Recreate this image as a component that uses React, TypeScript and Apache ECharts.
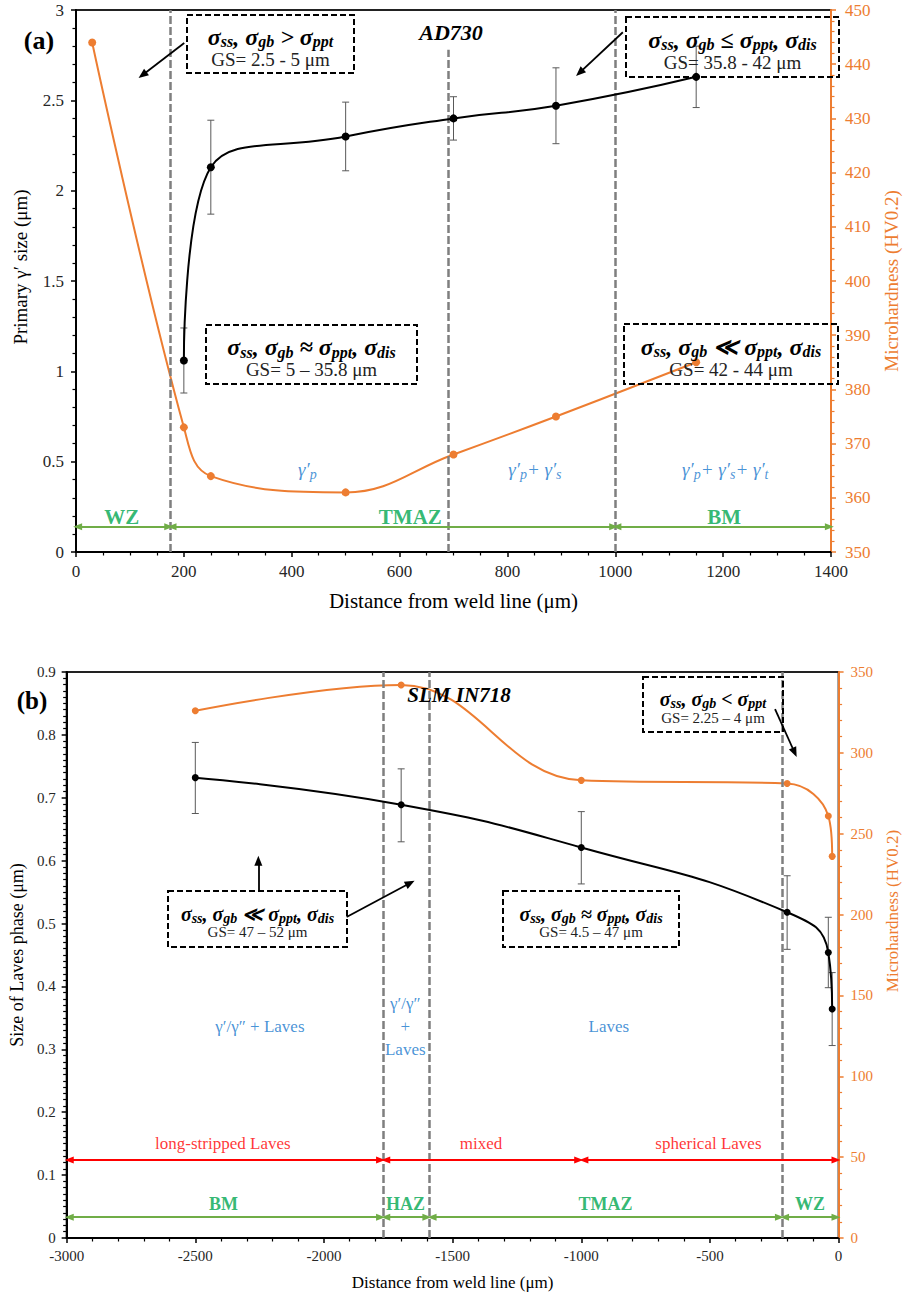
import React, { useEffect, useRef } from "react";
import * as echarts from "echarts";

const SERIF = "Liberation Serif";
const ORANGE = "#ED7D31";
const GREEN_TXT = "#00A64F";
const GREEN_LN = "#70AD47";
const BLUE = "#1677CC";
const RED = "#FF0000";

// ---------- (a) AD730 ----------
const aSizeX = [200, 250, 500, 700, 890, 1150];
const aSizeY = [1.06, 2.13, 2.3, 2.4, 2.47, 2.63];
const aSizeLo = [0.88, 1.87, 2.11, 2.28, 2.26, 2.46];
const aSizeHi = [1.24, 2.39, 2.49, 2.52, 2.68, 2.8];
const aHardX = [30, 200, 250, 500, 700, 890, 1150];
const aHardY = [444, 373, 364, 361, 368, 375, 385];
const aBounds = [175, 690, 1000];
const aBoundTop = [3, 2.78, 3];
const aZoneNames = ["WZ", "TMAZ", "BM"];
const aZoneFrom = [0, 175, 1000];
const aZoneTo = [175, 1000, 1400];
const aZoneLabelX = [85, 620, 1202];
const aZoneY = 0.14;
const aXRange = [0, 1400, 200];
const aYRange = [0, 3, 0.5];
const aY2Range = [350, 450, 10];

// ---------- (b) SLM IN718 ----------
const bX = [-2500, -1700, -1000, -200, -40, -25];
const bSizeY = [0.732, 0.689, 0.621, 0.518, 0.454, 0.364];
const bSizeLo = [0.675, 0.63, 0.563, 0.459, 0.398, 0.306];
const bSizeHi = [0.788, 0.746, 0.678, 0.576, 0.51, 0.422];
const bHardY = [326, 342, 283, 281, 261, 236];
const bBounds = [-1770, -1590, -220];
const bZoneNames = ["BM", "HAZ", "TMAZ", "WZ"];
const bZoneFrom = [-3000, -1770, -1590, -220];
const bZoneTo = [-1770, -1590, -220, 0];
const bZoneLabelX = [-2390, -1683, -906, -111];
const bZoneY = 0.033;
const bMorphNames = ["long-stripped Laves", "mixed", "spherical Laves"];
const bMorphFrom = [-3000, -1770, -1000];
const bMorphTo = [-1770, -1000, 0];
const bMorphLabelX = [-2393, -1390, -506];
const bMorphY = 0.124;
const bXRange = [-3000, 0, 500];
const bYRange = [0, 0.9, 0.1];
const bY2Range = [0, 350, 50];

const errRender = (params: any, api: any) => {
  const x = api.value(0);
  const lo = api.coord([x, api.value(1)]);
  const hi = api.coord([x, api.value(2)]);
  const w = 3.5;
  const st = { stroke: "#595959", lineWidth: 1 };
  return {
    type: "group",
    children: [
      { type: "line", shape: { x1: lo[0], y1: lo[1], x2: hi[0], y2: hi[1] }, style: st },
      { type: "line", shape: { x1: lo[0] - w, y1: lo[1], x2: lo[0] + w, y2: lo[1] }, style: st },
      { type: "line", shape: { x1: hi[0] - w, y1: hi[1], x2: hi[0] + w, y2: hi[1] }, style: st },
    ],
  };
};

const fmt = (v: number) => String(Math.round(v * 1e6) / 1e6);

function valueAxis(o: any) {
  const color = o.color || "#000";
  return {
    type: "value",
    gridIndex: o.grid,
    position: o.position,
    min: o.range[0],
    max: o.range[1],
    interval: o.range[2],
    name: o.name,
    nameLocation: "middle",
    nameGap: o.nameGap,
    nameTextStyle: { fontFamily: SERIF, fontSize: o.nameSize, color: o.nameColor || "#000", padding: o.namePad || 0 },
    axisLine: { show: true, onZero: false, lineStyle: { color, width: 2 } },
    axisTick: { show: true, length: 5, lineStyle: { color, width: 1.5 } },
    minorTick: { show: true, splitNumber: o.minor, length: 3.5, lineStyle: { color, width: 1.2 } },
    splitLine: { show: false },
    minorSplitLine: { show: false },
    axisLabel: { fontFamily: SERIF, fontSize: o.labelSize, color: o.labelColor || "#262626", margin: o.margin, formatter: fmt },
  };
}

const markerSeries = (xi: number, yi: number, markLine: any) => ({
  type: "line",
  xAxisIndex: xi,
  yAxisIndex: yi,
  data: [],
  silent: true,
  markLine: { silent: true, animation: false, label: { show: false }, emphasis: { disabled: true }, ...markLine },
});

const labelSeries = (xi: number, yi: number, data: any[], label: any) => ({
  type: "scatter",
  xAxisIndex: xi,
  yAxisIndex: yi,
  symbolSize: 1,
  silent: true,
  itemStyle: { color: "rgba(0,0,0,0)" },
  data,
  label: { show: true, position: "inside", formatter: "{b}", ...label },
  z: 8,
});

const subRich = (size: number, sub: number, pad: number) => ({
  b: { fontFamily: SERIF, fontWeight: "bold", fontStyle: "italic", fontSize: size, fill: "#000", lineHeight: size },
  s: { fontFamily: SERIF, fontWeight: "bold", fontStyle: "italic", fontSize: sub, fill: "#000", padding: [pad, 0, 0, 0], lineHeight: size },
  g: { fontFamily: SERIF, fontSize: size - 5, fill: "#222", lineHeight: size - 3 },
});

function box(x0: number, y0: number, x1: number, y1: number, text: string, size: number, sub: number, pad: number) {
  return [
    {
      type: "rect",
      shape: { x: x0, y: y0, width: x1 - x0, height: y1 - y0 },
      style: { fill: "none", stroke: "#000", lineWidth: 2, lineDash: [6, 3] },
      z: 20,
    },
    {
      type: "text",
      x: (x0 + x1) / 2,
      y: (y0 + y1) / 2 + 3,
      style: { text, rich: subRich(size, sub, pad), align: "center", verticalAlign: "middle", fontFamily: SERIF },
      z: 21,
    },
  ];
}

const f = (parts: [string, string][]) => parts.map(([b, s]) => `{b|${b}}` + (s ? `{s|${s}}` : "")).join("");

export default function App() {
  const ref = useRef<HTMLDivElement>(null);
  useEffect(() => {
    if (!ref.current) return;
    const chart = echarts.init(ref.current, undefined, { renderer: "svg" });

    const blueRich = {
      g: { color: BLUE, fontFamily: SERIF, fontStyle: "italic", fontSize: 19 },
      p: { color: BLUE, fontFamily: SERIF, fontStyle: "italic", fontSize: 14, padding: [9, 0, 0, 0] },
    };

    const option: any = {
      animation: false,
      backgroundColor: "#fff",
      textStyle: { fontFamily: SERIF },
      grid: [
        { left: 76, top: 10, width: 761, height: 542, show: true, borderColor: "#222", borderWidth: 2, backgroundColor: "transparent" },
        { left: 62, top: 672, width: 787, height: 566, show: true, borderColor: "#222", borderWidth: 2, backgroundColor: "transparent" },
      ],
      xAxis: [
        valueAxis({ grid: 0, position: "bottom", range: aXRange, name: "Distance from weld line (μm)", nameGap: 38, nameSize: 21, minor: 4, labelSize: 17, margin: 11 }),
        valueAxis({ grid: 1, position: "bottom", range: bXRange, name: "Distance from weld line (μm)", nameGap: 36, nameSize: 17, minor: 5, labelSize: 15, margin: 10 }),
      ],
      yAxis: [
        valueAxis({ grid: 0, position: "left", range: aYRange, name: "Primary γ′ size (μm)", nameGap: 46, nameSize: 19, minor: 5, labelSize: 17, margin: 12, namePad: [0, 0, 0, 28] }),
        valueAxis({ grid: 0, position: "right", range: aY2Range, name: "Microhardness (HV0.2)", nameGap: 51, nameSize: 19, minor: 5, labelSize: 17, margin: 14, color: ORANGE, nameColor: ORANGE, labelColor: ORANGE }),
        valueAxis({ grid: 1, position: "left", range: bYRange, name: "Size of Laves phase (μm)", nameGap: 38, nameSize: 18, minor: 10, labelSize: 15, margin: 11 }),
        valueAxis({ grid: 1, position: "right", range: bY2Range, name: "Microhardness (HV0.2)", nameGap: 44, nameSize: 17, minor: 5, labelSize: 15, margin: 12, color: ORANGE, nameColor: ORANGE, labelColor: ORANGE, namePad: [0, 0, 0, 88] }),
      ],
      series: [
        // ---- (a) ----
        markerSeries(0, 0, {
          symbol: "none",
          lineStyle: { color: "#7F7F7F", width: 2.5, type: [8, 3] },
          data: aBounds.map((v, i) => [{ coord: [v, 0] }, { coord: [v, aBoundTop[i]] }]),
        }),
        markerSeries(0, 0, {
          symbol: ["triangle", "triangle"],
          symbolSize: [7, 9],
          lineStyle: { color: GREEN_LN, width: 2, type: "solid" },
          data: aZoneNames.map((_, i) => [{ coord: [aZoneFrom[i] + 3, aZoneY] }, { coord: [aZoneTo[i] - 3, aZoneY] }]),
        }),
        markerSeries(0, 0, {
          symbol: ["none", "triangle"],
          symbolSize: [8, 10],
          lineStyle: { color: "#000", width: 1.8, type: "solid" },
          data: [
            [{ coord: [200.7, 2.817] }, { coord: [123.4, 2.64] }],
            [{ coord: [1014, 2.877] }, { coord: [934, 2.653] }],
          ],
        }),
        {
          type: "custom",
          xAxisIndex: 0,
          yAxisIndex: 0,
          renderItem: errRender,
          encode: { x: 0, y: [1, 2] },
          data: aSizeX.map((x, i) => [x, aSizeLo[i], aSizeHi[i]]),
          z: 3,
          silent: true,
        },
        {
          type: "line",
          xAxisIndex: 0,
          yAxisIndex: 1,
          smooth: 0.4,
          symbol: "circle",
          symbolSize: 8,
          itemStyle: { color: ORANGE },
          lineStyle: { color: ORANGE, width: 2 },
          data: aHardX.map((x, i) => [x, aHardY[i]]),
          z: 4,
        },
        {
          type: "line",
          xAxisIndex: 0,
          yAxisIndex: 0,
          smooth: 0.5,
          symbol: "circle",
          symbolSize: 8,
          itemStyle: { color: "#000" },
          lineStyle: { color: "#000", width: 2 },
          data: aSizeX.map((x, i) => [x, aSizeY[i]]),
          z: 5,
        },
        labelSeries(
          0,
          0,
          aZoneNames.map((n, i) => ({ name: n, value: [aZoneLabelX[i], 0.195] })),
          { color: GREEN_TXT, fontFamily: SERIF, fontWeight: "bold", fontSize: 21 }
        ),
        labelSeries(
          0,
          0,
          [
            { name: "{g|γ′}{p|p}", value: [429, 0.454] },
            { name: "{g|γ′}{p|p}{g|+ γ′}{p|s}", value: [851, 0.454] },
            { name: "{g|γ′}{p|p}{g|+ γ′}{p|s}{g|+ γ′}{p|t}", value: [1204, 0.454] },
          ],
          { rich: blueRich }
        ),
        // ---- (b) ----
        markerSeries(1, 2, {
          symbol: "none",
          lineStyle: { color: "#7F7F7F", width: 2.5, type: [8, 3] },
          data: bBounds.map((v) => [{ coord: [v, 0] }, { coord: [v, 0.9] }]),
        }),
        markerSeries(1, 2, {
          symbol: ["triangle", "triangle"],
          symbolSize: [7, 9],
          lineStyle: { color: GREEN_LN, width: 2, type: "solid" },
          data: bZoneNames.map((_, i) => [{ coord: [bZoneFrom[i] + 10, bZoneY] }, { coord: [bZoneTo[i] - 10, bZoneY] }]),
        }),
        markerSeries(1, 2, {
          symbol: ["triangle", "triangle"],
          symbolSize: [7, 9],
          lineStyle: { color: RED, width: 2, type: "solid" },
          data: bMorphNames.map((_, i) => [{ coord: [bMorphFrom[i] + 10, bMorphY] }, { coord: [bMorphTo[i] - 10, bMorphY] }]),
        }),
        markerSeries(1, 2, {
          symbol: ["none", "triangle"],
          symbolSize: [8, 10],
          lineStyle: { color: "#000", width: 1.8, type: "solid" },
          data: [
            [{ coord: [-2255, 0.551] }, { coord: [-2255, 0.6] }],
            [{ coord: [-1912, 0.5105] }, { coord: [-1665, 0.5645] }],
            [{ coord: [-247, 0.841] }, { coord: [-171, 0.772] }],
          ],
        }),
        {
          type: "custom",
          xAxisIndex: 1,
          yAxisIndex: 2,
          renderItem: errRender,
          encode: { x: 0, y: [1, 2] },
          data: bX.map((x, i) => [x, bSizeLo[i], bSizeHi[i]]),
          z: 3,
          silent: true,
        },
        {
          type: "line",
          xAxisIndex: 1,
          yAxisIndex: 3,
          smooth: 0.4,
          symbol: "circle",
          symbolSize: 7,
          itemStyle: { color: ORANGE },
          lineStyle: { color: ORANGE, width: 2 },
          data: bX.map((x, i) => [x, bHardY[i]]),
          z: 4,
        },
        {
          type: "line",
          xAxisIndex: 1,
          yAxisIndex: 2,
          smooth: 0.5,
          symbol: "circle",
          symbolSize: 7,
          itemStyle: { color: "#000" },
          lineStyle: { color: "#000", width: 2 },
          data: bX.map((x, i) => [x, bSizeY[i]]),
          z: 5,
        },
        labelSeries(
          1,
          2,
          bZoneNames.map((n, i) => ({ name: n, value: [bZoneLabelX[i], 0.054] })),
          { color: GREEN_TXT, fontFamily: SERIF, fontWeight: "bold", fontSize: 18 }
        ),
        labelSeries(
          1,
          2,
          bMorphNames.map((n, i) => ({ name: n, value: [bMorphLabelX[i], 0.151] })),
          { color: RED, fontFamily: SERIF, fontSize: 17 }
        ),
        labelSeries(
          1,
          2,
          [
            { name: "γ′/γ″ + Laves", value: [-2249, 0.336] },
            { name: "γ′/γ″\n+\nLaves", value: [-1684, 0.336] },
            { name: "Laves", value: [-893, 0.336] },
          ],
          { color: BLUE, fontFamily: SERIF, fontSize: 17, lineHeight: 23, align: "center" }
        ),
      ],
      graphic: [
        { type: "text", x: 39, y: 40, style: { text: "(a)", fontFamily: SERIF, fontWeight: "bold", fontSize: 26, fill: "#000", align: "center", verticalAlign: "middle" }, z: 30 },
        { type: "text", x: 451, y: 32, style: { text: "AD730", fontFamily: SERIF, fontWeight: "bold", fontStyle: "italic", fontSize: 22, fill: "#000", align: "center", verticalAlign: "middle" }, z: 30 },
        { type: "text", x: 32, y: 700, style: { text: "(b)", fontFamily: SERIF, fontWeight: "bold", fontSize: 25, fill: "#000", align: "center", verticalAlign: "middle" }, z: 30 },
        { type: "text", x: 459, y: 695, style: { text: "SLM IN718", fontFamily: SERIF, fontWeight: "bold", fontStyle: "italic", fontSize: 21, fill: "#000", align: "center", verticalAlign: "middle" }, z: 30 },
        ...box(187, 15, 354, 73, f([["σ", "ss"], [", σ", "gb"], [" > σ", "ppt"]]) + "\n{g|GS= 2.5 - 5 μm}", 24, 16, 10),
        ...box(626, 17, 839, 77, f([["σ", "ss"], [", σ", "gb"], [" ≤ σ", "ppt"], [", σ", "dis"]]) + "\n{g|GS= 35.8 - 42 μm}", 24, 16, 10),
        ...box(206, 325, 417, 384, f([["σ", "ss"], [", σ", "gb"], [" ≈ σ", "ppt"], [", σ", "dis"]]) + "\n{g|GS= 5 – 35.8 μm}", 24, 16, 10),
        ...box(624, 324, 838, 384, f([["σ", "ss"], [", σ", "gb"], [" ≪ σ", "ppt"], [", σ", "dis"]]) + "\n{g|GS= 42 - 44 μm}", 24, 16, 10),
        ...box(168, 891, 347, 947, f([["σ", "ss"], [", σ", "gb"], [" ≪ σ", "ppt"], [", σ", "dis"]]) + "\n{g|GS= 47 – 52 μm}", 20, 14, 9),
        ...box(503, 891, 679, 947, f([["σ", "ss"], [", σ", "gb"], [" ≈ σ", "ppt"], [", σ", "dis"]]) + "\n{g|GS= 4.5 – 47 μm}", 20, 14, 9),
        ...box(643, 677, 783, 732, f([["σ", "ss"], [", σ", "gb"], [" < σ", "ppt"]]) + "\n{g|GS= 2.25 – 4 μm}", 20, 14, 9),
      ],
    };

    chart.setOption(option);
    return () => chart.dispose();
  }, []);

  return <div ref={ref} style={{ position: "absolute", left: 0, top: 0, width: 909, height: 1299, background: "#fff" }} />;
}
